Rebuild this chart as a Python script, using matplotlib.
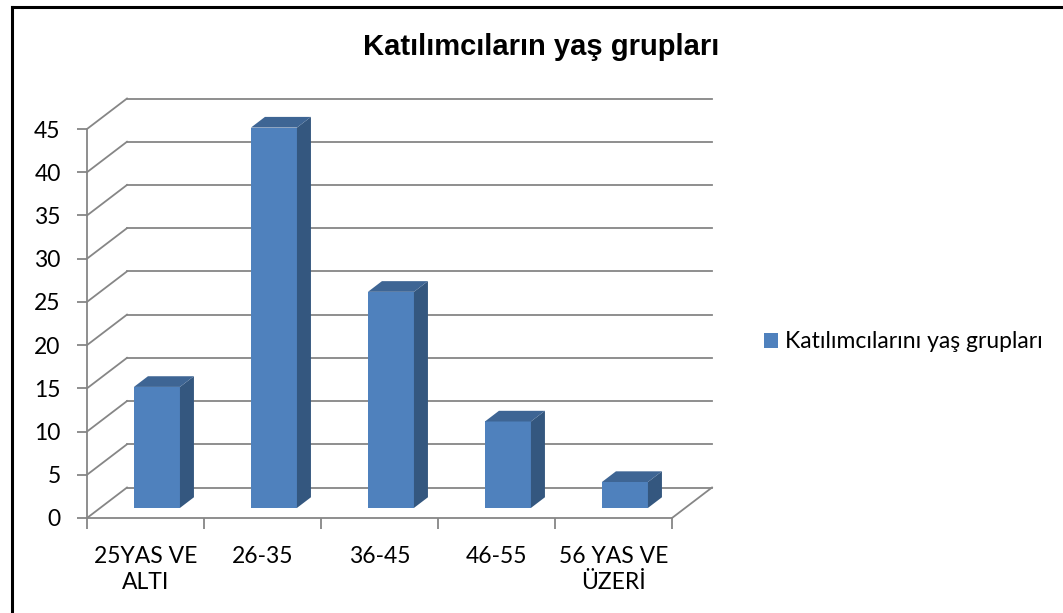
import matplotlib.pyplot as plt
from matplotlib.patches import Polygon
from matplotlib.lines import Line2D

categories = ['25YAS VE\nALTI', '26-35', '36-45', '46-55', '56 YAS VE\nÜZERİ']
values = [14, 44, 25, 10, 3]
series_name = 'Katılımcılarını yaş grupları'
title = 'Katılımcıların yaş grupları'
yticks = list(range(0, 50, 5))

W, H = 1063, 613
fig = plt.figure(figsize=(W / 100, H / 100), dpi=100)
fig.patch.set_facecolor('white')

# front plane of the pseudo 3d box, pixel extents
x0px, x1px, y0px, y1px = 87, 672, 518, 129
ax = fig.add_axes([x0px / W, 1 - y0px / H, (x1px - x0px) / W, (y0px - y1px) / H])
ax.set_xlim(-0.5, len(values) - 0.5)
ax.set_ylim(0, 45)
ax.patch.set_visible(False)

grid_c = '#868686'
face_c = '#4F81BD'
side_c = '#34577F'
top_c = '#3E6594'

# depth offset of the back wall, in data units
DX = 40 / 117
DY = 30.5 / (389 / 45)

xl, xr = -0.5, len(values) - 0.5
for v in yticks:
    ax.add_line(Line2D([xl + DX, xr + DX], [v + DY, v + DY], color=grid_c, lw=1.3, clip_on=False, zorder=1))
    ax.add_line(Line2D([xl, xl + DX], [v, v + DY], color=grid_c, lw=1.3, clip_on=False, zorder=1))
# floor right edge
ax.add_line(Line2D([xr, xr + DX], [0, DY], color=grid_c, lw=1.3, clip_on=False, zorder=1))

# bars
d0, d1 = 0.33, 0.68
bw = 46 / 117
for i, v in enumerate(values):
    bx = i - bw / 2 + d0 * DX - 0.015
    by = d0 * DY
    ddx = (d1 - d0) * DX
    ddy = (d1 - d0) * DY
    front = Polygon([(bx, by), (bx + bw, by), (bx + bw, by + v), (bx, by + v)],
                    closed=True, fc=face_c, ec='none', clip_on=False, zorder=3,
                    label=series_name if i == 0 else None)
    side = Polygon([(bx + bw, by), (bx + bw + ddx, by + ddy), (bx + bw + ddx, by + v + ddy), (bx + bw, by + v)],
                   closed=True, fc=side_c, ec='none', clip_on=False, zorder=3)
    top = Polygon([(bx, by + v), (bx + bw, by + v), (bx + bw + ddx, by + v + ddy), (bx + ddx, by + v + ddy)],
                  closed=True, fc=top_c, ec='none', clip_on=False, zorder=3)
    for p in (front, side, top):
        ax.add_patch(p)

for s in ['top', 'right']:
    ax.spines[s].set_visible(False)
for s in ['left', 'bottom']:
    ax.spines[s].set_color(grid_c)
    ax.spines[s].set_linewidth(1.3)

fs = 16.5
ax.set_yticks(yticks)
ax.set_yticklabels([str(t) for t in yticks], fontfamily='Lato', fontsize=fs)
ax.tick_params(axis='y', direction='out', length=7, width=1.3, color=grid_c, pad=12)

ax.set_xticks([i - 0.5 for i in range(len(values) + 1)])
ax.set_xticklabels([])
ax.tick_params(axis='x', which='major', direction='out', length=8, width=1.3, color=grid_c)
ax.set_xticks(range(len(values)), minor=True)
ax.set_xticklabels(categories, minor=True, fontfamily='Lato', fontsize=fs, linespacing=1.3)
ax.tick_params(axis='x', which='minor', length=0, pad=20)

fig.text(541 / W, 1 - 47 / H, title, ha='center', va='center',
         fontfamily='Liberation Sans', fontweight='bold', fontsize=21)

leg = fig.legend(loc='center left', bbox_to_anchor=(764 / W, 1 - 342 / H), frameon=False,
                 handlelength=0.6, handleheight=0.6, handletextpad=0.3,
                 borderpad=0, borderaxespad=0, prop={'family': 'Lato', 'size': fs})

# chart border (only top and left are visible in the image)
fig.add_artist(Line2D([11.5 / W, 11.5 / W], [0, 1 - 6.5 / H], color='black', lw=2.2, transform=fig.transFigure))
fig.add_artist(Line2D([11.5 / W, 1], [1 - 6.5 / H, 1 - 6.5 / H], color='black', lw=2.2, transform=fig.transFigure))

fig.savefig('out.png', dpi=100, facecolor='white')
